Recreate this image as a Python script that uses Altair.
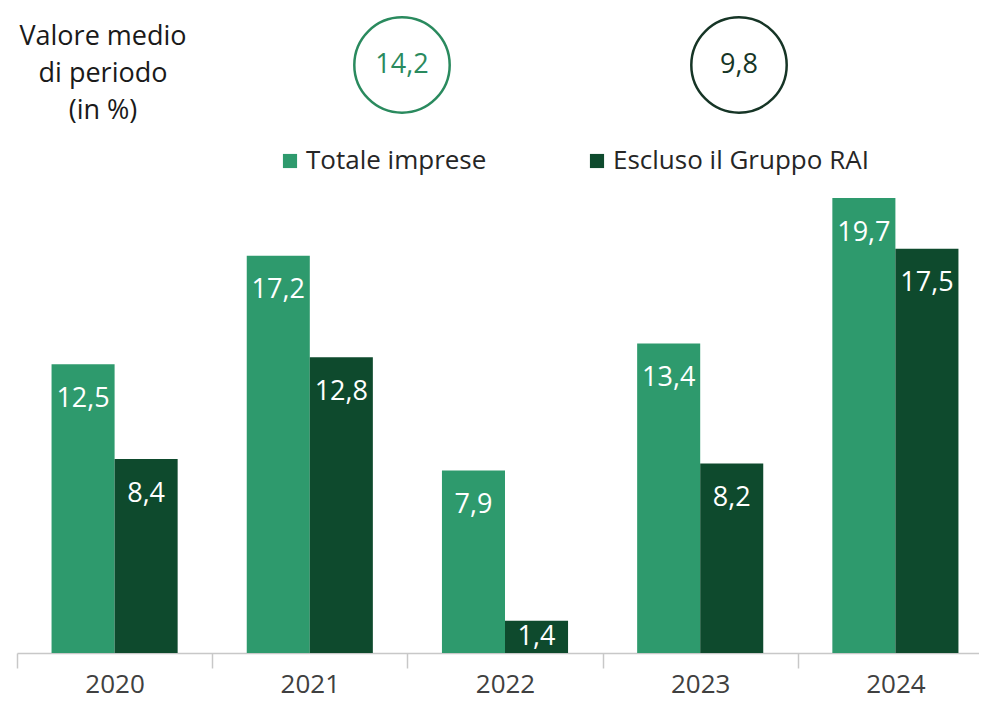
import altair as alt
import pandas as pd

years = ["2020", "2021", "2022", "2023", "2024"]
totale = [12.5, 17.2, 7.9, 13.4, 19.7]
escluso = [8.4, 12.8, 1.4, 8.2, 17.5]
series = ["Totale imprese", "Escluso il Gruppo RAI"]
medie = [14.2, 9.8]
colors = ["#2E9A6D", "#0E4A2D"]
circle_colors = ["#2A8A5E", "#163526"]
circle_x = [385, 722]
title_lines = ["Valore medio", "di periodo", "(in %)"]

rows = []
for i, y in enumerate(years):
    rows.append({"anno": y, "serie": series[0], "valore": totale[i]})
    rows.append({"anno": y, "serie": series[1], "valore": escluso[i]})
df = pd.DataFrame(rows)

FONT = "Open Sans"
P_TOP = 183
H = 462
W = 962
X_RANGE = 976

x_scale = alt.Scale(domain=years, range=[0, X_RANGE], paddingInner=0, paddingOuter=0)
x_enc = alt.X("anno:N", sort=years, scale=x_scale,
              axis=alt.Axis(title=None, labelFontSize=26, labelColor="#404040",
                            labelFont=FONT, domainColor="#C8C8C8", tickColor="#C8C8C8",
                            domainWidth=1.5, tickWidth=1.5, tickSize=15,
                            tickBand="extent", labelPadding=3, labelAngle=0))
xoff = alt.XOffset("serie:N", sort=series,
                   scale=alt.Scale(domain=series, paddingInner=0, paddingOuter=0.548))
y_enc = alt.Y("valore:Q", scale=alt.Scale(domain=[0, 20], nice=False), axis=None)

base = alt.Chart(df)

bars = base.mark_bar().encode(
    x=x_enc, xOffset=xoff, y=y_enc,
    color=alt.Color("serie:N", sort=series,
                    scale=alt.Scale(domain=series, range=colors),
                    legend=alt.Legend(title=None, orient="none", legendX=260, legendY=-43,
                                      direction="horizontal", symbolType="square",
                                      symbolSize=200, symbolStrokeWidth=0,
                                      labelFontSize=26, labelFont=FONT, labelColor="#262626",
                                      labelOffset=3, columnPadding=97, labelLimit=400)),
)

labels = base.transform_calculate(
    pos="max(datum.valore - 1.5, datum.valore / 2)",
    lab="replace(format(datum.valore, '.1f'), '.', ',')",
).mark_text(color="white", fontSize=27, font=FONT, baseline="middle").encode(
    x=alt.X("anno:N", sort=years), xOffset=alt.XOffset("serie:N", sort=series),
    y=alt.Y("pos:Q"), text="lab:N",
)

cdf = pd.DataFrame({"serie": series, "media": medie, "cx": circle_x, "col": circle_colors})
cdf["lab"] = [f"{v:.1f}".replace(".", ",") for v in medie]

circles = alt.Chart(cdf).mark_point(shape="circle", size=9100, filled=False, strokeWidth=2.5, opacity=1).encode(
    x=alt.X("cx:Q", scale=None), y=alt.value(57 - P_TOP),
    stroke=alt.Stroke("col:N", scale=None),
)
circle_text = alt.Chart(cdf).mark_text(fontSize=27, font=FONT, baseline="middle").encode(
    x=alt.X("cx:Q", scale=None), y=alt.value(57 - P_TOP),
    text="lab:N", color=alt.Color("col:N", scale=None),
)

title_df = pd.DataFrame({"t": [0]})
title = alt.Chart(title_df).mark_text(
    text=title_lines, fontSize=27, font=FONT, color="#1A1A1A", lineHeight=37,
    baseline="middle", align="center",
).encode(x=alt.value(86), y=alt.value(29 - P_TOP))

chart = alt.layer(bars, labels, circles, circle_text, title).resolve_scale(
    color="independent", stroke="independent"
).properties(
    width=W, height=H,
    padding={"left": 9, "top": P_TOP, "right": 0, "bottom": 46},
    autosize=alt.AutoSizeParams(type="none"),
).configure_view(stroke=None)

chart.save("out.html", embed_options={"renderer": "svg", "actions": False})
